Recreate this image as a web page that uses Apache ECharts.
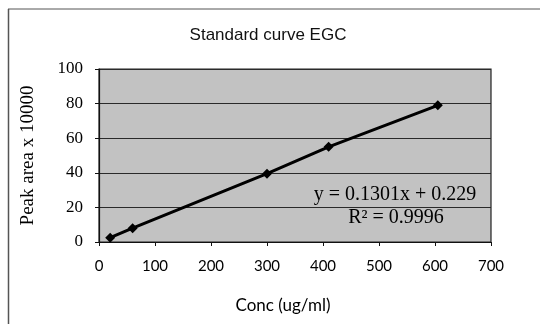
<!DOCTYPE html>
<html>
<head>
<meta charset="utf-8">
<script src="https://cdn.jsdelivr.net/npm/echarts@6/dist/echarts.min.js"></script>
<style>
html,body{margin:0;padding:0;background:#fff;}
#c{width:543px;height:324px;}
</style>
</head>
<body>
<div id="c"></div>
<script>
var concValues = [20, 60, 300, 410, 605];
var peakValues = [2.5, 8, 39.5, 55, 79];
var titleText = 'Standard curve EGC';
var xAxisName = 'Conc (ug/ml)';
var yAxisName = 'Peak area x 10000';
var equationLines = ['y = 0.1301x + 0.229', 'R\u00b2 = 0.9996'];

var points = concValues.map(function (x, i) { return [x, peakValues[i]]; });

var chart = echarts.init(document.getElementById('c'), null, {renderer: 'canvas'});
chart.setOption({
  animation: false,
  backgroundColor: '#fff',
  title: {
    text: titleText,
    left: 263, top: 22, textAlign: 'center',
    textStyle: {fontFamily: 'Liberation Sans', fontSize: 17, fontWeight: 'normal', color: '#111'}
  },
  grid: {
    left: 99, right: 52, top: 69, bottom: 82,
    show: true, backgroundColor: '#c2c2c2', borderColor: '#222', borderWidth: 1.2
  },
  xAxis: {
    type: 'value', min: 0, max: 700, interval: 100,
    name: xAxisName, nameLocation: 'middle', nameGap: 55,
    nameTextStyle: {fontFamily: 'Lato', fontSize: 17, color: '#000', padding: [0, 24, 0, 0]},
    axisLine: {show: true, lineStyle: {color: '#111', width: 1.2}},
    axisTick: {show: true, length: 4, lineStyle: {color: '#111'}},
    axisLabel: {fontFamily: 'Lato', fontSize: 15, color: '#000', margin: 17},
    splitLine: {show: false}
  },
  yAxis: {
    type: 'value', min: 0, max: 100, interval: 20,
    name: yAxisName, nameLocation: 'middle', nameGap: 61,
    nameTextStyle: {fontFamily: 'Liberation Serif', fontSize: 19, color: '#000'},
    axisLine: {show: true, lineStyle: {color: '#111', width: 1.2}},
    axisTick: {show: true, length: 4, lineStyle: {color: '#111'}},
    axisLabel: {fontFamily: 'Liberation Serif', fontSize: 17, color: '#000', margin: 16},
    splitLine: {show: true, lineStyle: {color: '#2a2a2a', width: 1.2}}
  },
  series: [{
    type: 'line',
    data: points,
    symbol: 'diamond', symbolSize: 10,
    itemStyle: {color: '#000'},
    lineStyle: {color: '#000', width: 3}
  }],
  graphic: [
    {type: 'line', shape: {x1: 8, y1: 9, x2: 540, y2: 9}, style: {stroke: '#555', lineWidth: 1}},
    {type: 'line', shape: {x1: 8.5, y1: 9, x2: 8.5, y2: 324}, style: {stroke: '#555', lineWidth: 1.5}},
    {type: 'text', x: 395, y: 195, style: {text: equationLines[0], font: '20px "Liberation Serif"', fill: '#000', align: 'center', verticalAlign: 'middle'}},
    {type: 'text', x: 396, y: 218, style: {text: equationLines[1], font: '20px "Liberation Serif"', fill: '#000', align: 'center', verticalAlign: 'middle'}}
  ]
});
</script>
</body>
</html>
